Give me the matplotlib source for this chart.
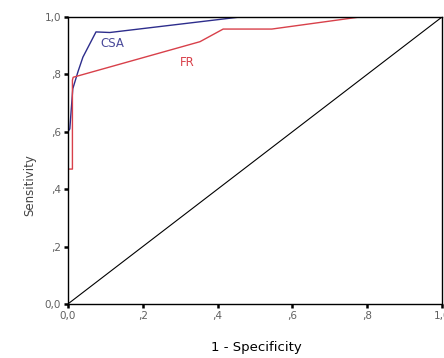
import matplotlib
matplotlib.use("Agg")
import matplotlib.pyplot as plt

# ROC curves
csa_fpr = [0.0, 0.0, 0.005, 0.013, 0.027, 0.04, 0.075, 0.112, 0.46, 1.0]
csa_tpr = [0.0, 0.60, 0.61, 0.75, 0.81, 0.86, 0.948, 0.946, 1.0, 1.0]

fr_fpr = [0.0, 0.0, 0.012, 0.012, 0.014, 0.353, 0.415, 0.545, 0.78, 1.0]
fr_tpr = [0.0, 0.47, 0.47, 0.78, 0.79, 0.914, 0.958, 0.958, 1.0, 1.0]

ticks = [0.0, 0.2, 0.4, 0.6, 0.8, 1.0]
tick_labels = ["0,0", ",2", ",4", ",6", ",8", "1,0"]

plt.rcParams["font.family"] = ["DejaVu Sans"]

fig = plt.figure(figsize=(4.44, 3.58), dpi=100)
ax = fig.add_axes([0.153, 0.151, 0.8425, 0.8015])

ax.plot([0, 1], [0, 1], color="black", lw=0.8)
ax.plot(csa_fpr, csa_tpr, color="#2d2d8c", lw=1.0)
ax.plot(fr_fpr, fr_tpr, color="#d8404a", lw=1.0)

ax.text(0.118, 0.906, "CSA", color="#4a4a9a", fontsize=8.5, ha="center", va="center")
ax.text(0.32, 0.843, "FR", color="#d8404a", fontsize=8.5, ha="center", va="center")

ax.set_xlim(0, 1)
ax.set_ylim(0, 1)
ax.set_xticks(ticks)
ax.set_xticklabels(tick_labels)
ax.set_yticks(ticks)
ax.set_yticklabels(tick_labels)
ax.tick_params(axis="both", direction="out", length=3, width=1.8,
               labelsize=7.5, labelcolor="#606060", pad=2)
for s in ax.spines.values():
    s.set_linewidth(1.0)
    s.set_color("black")

fig.text(256 / 444, 1 - 348 / 358, "1 - Specificity", ha="center", va="center",
         fontsize=9.5)
fig.text(30 / 444, 1 - 185 / 358, "Sensitivity", ha="center", va="center",
         rotation=90, fontsize=8.5, color="#444444")

fig.savefig("out.png", dpi=100)
